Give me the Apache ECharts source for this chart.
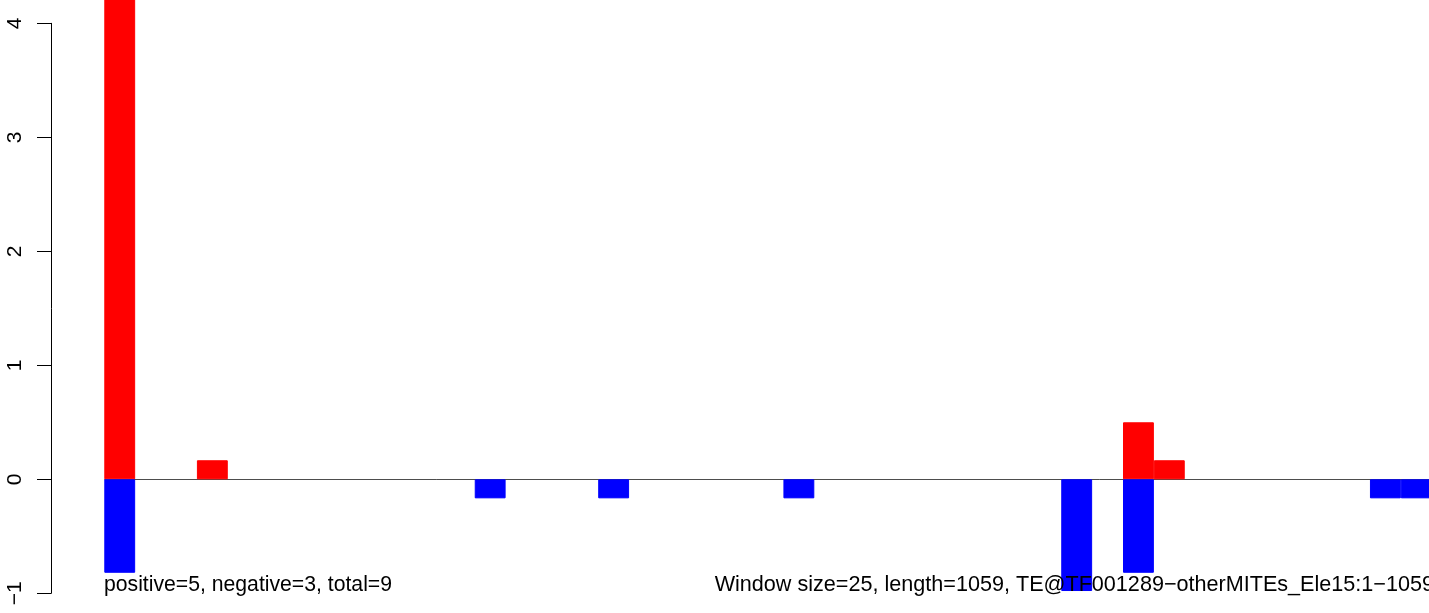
<!DOCTYPE html>
<html><head><meta charset="utf-8">
<script src="https://cdn.jsdelivr.net/npm/echarts@6/dist/echarts.min.js"></script>
<style>html,body{margin:0;padding:0;background:#fff;overflow:hidden;width:1429px;height:613px}#c{width:1460px;height:613px}</style>
</head><body><div id="c"></div>
<script>
// window index (window size 25, length 1059 -> 43 windows)
const windows = ['1','2','3','4','5','6','7','8','9','10','11','12','13','14','15','16','17','18','19','20',
  '21','22','23','24','25','26','27','28','29','30','31','32','33','34','35','36','37','38','39','40','41','42','43'];
// positive (red) values; first one runs off the top of the picture
const positive = [4.5,0,0,0.167,0,0,0,0,0,0,0,0,0,0,0,0,0,0,0,0,
  0,0,0,0,0,0,0,0,0,0,0,0,0,0.5,0.167,0,0,0,0,0,0,0,0];
// negative (blue) values
const negative = [-0.82,0,0,0,0,0,0,0,0,0,0,0,-0.167,0,0,0,-0.167,0,0,0,
  0,0,-0.167,0,0,0,0,0,0,0,0,-0.98,0,-0.82,0,0,0,0,0,0,0,-0.167,-0.167];
const yTicks = [-1, 0, 1, 2, 3, 4];
const leftNote = 'positive=5, negative=3, total=9';
const rightNote = 'Window size=25, length=1059, TE@TF001289\u2212otherMITEs_Ele15:1\u22121059';

const FONT = '"Liberation Sans", Arial, Helvetica, sans-serif';
// empty windows draw no bar at all
const nz = arr => arr.map(v => (v === 0 ? null : v));

const chart = echarts.init(document.getElementById('c'), null, {renderer: 'canvas'});
chart.setOption({
  animation: false,
  backgroundColor: '#ffffff',
  grid: {left: 104.3, top: 23.3, width: 1327.4, height: 570, containLabel: false},
  xAxis: {
    type: 'category', data: windows, boundaryGap: true,
    axisLine: {show: false}, axisTick: {show: false}, axisLabel: {show: false}, splitLine: {show: false}
  },
  yAxis: {
    type: 'value', min: yTicks[0], max: yTicks[yTicks.length - 1], interval: 1,
    offset: 53.3,
    axisLine: {show: true, lineStyle: {color: '#000', width: 1}},
    axisTick: {show: true, inside: false, length: 14, lineStyle: {color: '#000', width: 1}},
    axisLabel: {
      rotate: 90, margin: 25, fontSize: 21, color: '#000', fontFamily: FONT,
      formatter: v => String(v).replace('-', '\u2212')
    },
    splitLine: {show: false}
  },
  series: [
    {
      name: 'positive', type: 'bar', stack: 'w', data: nz(positive), barWidth: '100%', clip: false,
      itemStyle: {color: '#FF0000', borderColor: '#FF0000', borderWidth: 1}, z: 2,
      markLine: {
        silent: true, symbol: ['none', 'none'], label: {show: false}, z: 1,
        lineStyle: {color: '#4d4d4d', width: 1, type: 'solid'},
        data: [{yAxis: 0}]
      }
    },
    {
      name: 'negative', type: 'bar', stack: 'w', data: nz(negative), barWidth: '100%', clip: false,
      itemStyle: {color: '#0000FF', borderColor: '#0000FF', borderWidth: 1}, z: 2
    }
  ],
  graphic: [
    {type: 'text', x: 104, y: 585, z: 100,
      style: {text: leftNote, font: '21.2px ' + FONT, fill: '#000', align: 'left', verticalAlign: 'middle'}},
    {type: 'text', x: 1434, y: 585, z: 100,
      style: {text: rightNote, font: '21.6px ' + FONT, fill: '#000', align: 'right', verticalAlign: 'middle'}}
  ]
});
</script></body></html>
